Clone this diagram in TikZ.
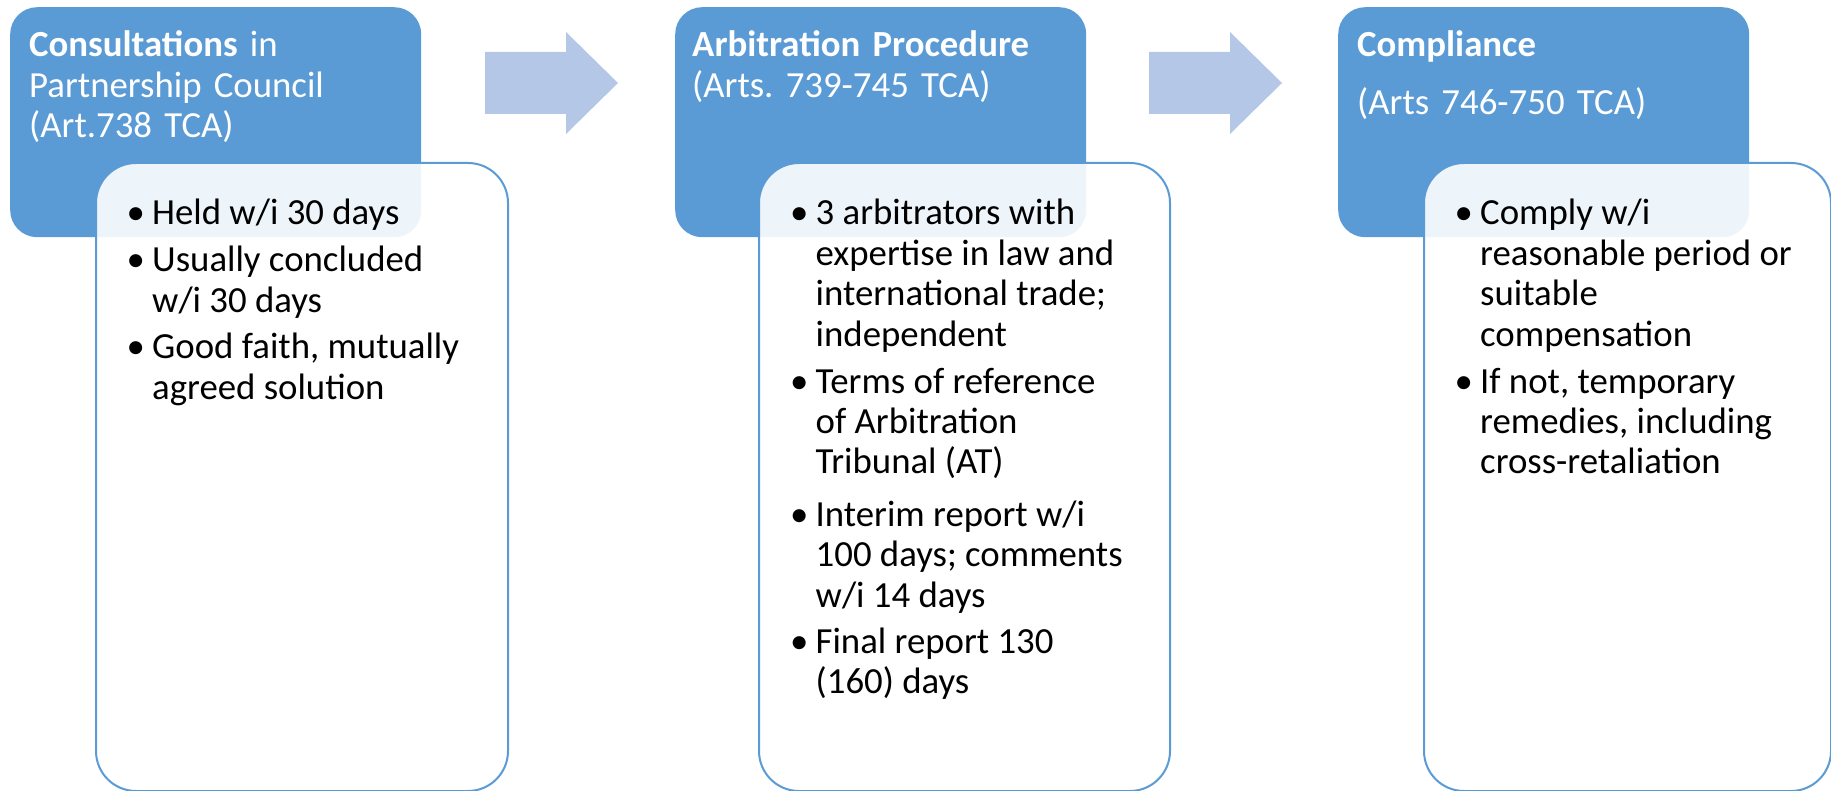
\documentclass[tikz,border=0pt]{standalone}
\usepackage{fontspec}
\setmainfont{Carlito}
\usetikzlibrary{positioning}
\definecolor{hdrblue}{HTML}{5B9BD5}
\definecolor{arrblue}{HTML}{B4C7E7}
\frenchspacing
\newcommand{\bitem}[1]{\makebox[25.5pt][l]{\textbullet}\parbox[t]{350pt}{#1}}

\begin{document}
\begin{tikzpicture}[x=1pt, y=-1pt,
    hdr/.style={fill=hdrblue, rounded corners=27pt, minimum width=411pt, minimum height=230pt, anchor=north west, inner sep=0pt},
    hdrtext/.style={text=white, anchor=base west, inner sep=0pt, text width=400pt, align=left, font=\fontsize{36.8}{40.5}\selectfont},
    panel/.style={draw=hdrblue, line width=2pt, fill=white, fill opacity=0.9, rounded corners=40pt, minimum height=628pt, anchor=north west, inner sep=0pt},
    bodytext/.style={anchor=base west, inner sep=0pt, font=\fontsize{36.8}{40.5}\selectfont}]
    \useasboundingbox (0, 0) rectangle (1831, 791);

    % stage headers
    \node[hdr] (consult) at (10, 7) {};
    \node[hdr] (arbit) at (675, 7) {};
    \node[hdr] (comply) at (1338, 7) {};

    % block arrows
    \fill[arrblue] (485, 52) -- (566, 52) -- (566, 32) -- (618, 83) -- (566, 134) -- (566, 114) -- (485, 114) -- cycle;
    \fill[arrblue] (1149, 52) -- (1230, 52) -- (1230, 32) -- (1282, 83) -- (1230, 134) -- (1230, 114) -- (1149, 114) -- cycle;

    \node[hdrtext] (consulttxt) at (29, 57) {\textbf{Consultations} in\\Partnership Council\\(Art.738 TCA)};
    \node[hdrtext] (arbittxt) at (692, 57) {\textbf{Arbitration Procedure}\\(Arts. 739-745 TCA)};
    \node[hdrtext] (complytxt) at (1357, 57) {\textbf{Compliance}\\[17.5pt](Arts 746-750 TCA)};

    % detail panels
    \node[panel, minimum width=412pt] (consultbox) at (95, 162) {};
    \node[panel, minimum width=411pt] (arbitbox) at (758, 162) {};
    \node[panel, minimum width=407pt] (complybox) at (1423, 162) {};

    % bullet points
    \node[bodytext] (held) at (126.5, 225) {\bitem{Held w/i 30 days}};
    \node[bodytext] (concluded) at (126.5, 272) {\bitem{Usually concluded\\w/i 30 days}};
    \node[bodytext] (goodfaith) at (126.5, 359) {\bitem{Good faith, mutually\\agreed solution}};

    \node[bodytext] (arbitrators) at (790, 225) {\bitem{3 arbitrators with\\expertise in law and\\international trade;\\independent}};
    \node[bodytext] (terms) at (790, 393) {\bitem{Terms of reference\\of Arbitration\\Tribunal (AT)}};
    \node[bodytext] (interim) at (790, 526) {\bitem{Interim report w/i\\100 days; comments\\w/i 14 days}};
    \node[bodytext] (final) at (790, 653) {\bitem{Final report 130\\(160) days}};

    \node[bodytext] (complywi) at (1454.5, 225) {\bitem{Comply w/i\\reasonable period or\\suitable\\compensation}};
    \node[bodytext] (remedies) at (1454.5, 393) {\bitem{If not, temporary\\remedies, including\\cross-retaliation}};
\end{tikzpicture}
\end{document}
